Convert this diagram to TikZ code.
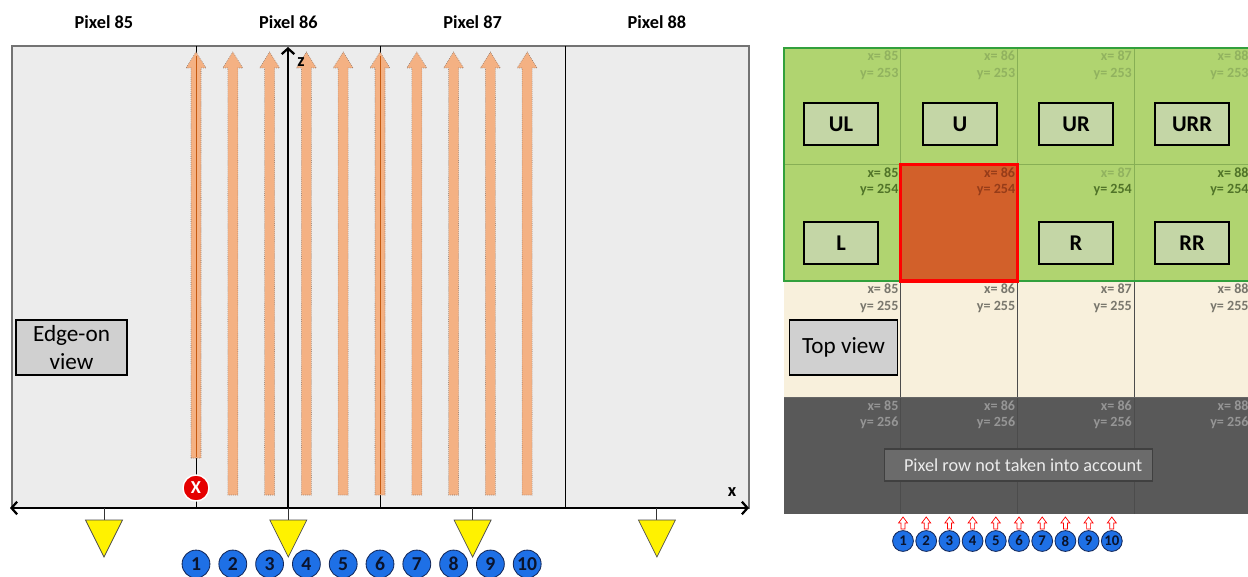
\documentclass[tikz,border=0pt]{standalone}
\usepackage{fontspec}
\setmainfont{Carlito}
\usetikzlibrary{arrows.meta}

\definecolor{edgebg}{RGB}{236,236,236}
\definecolor{beam}{RGB}{244,177,131}
\definecolor{beamline}{RGB}{125,105,95}
\definecolor{beamcore}{RGB}{197,90,17}
\definecolor{padgreen}{RGB}{176,212,112}
\definecolor{padborder}{RGB}{50,160,60}
\definecolor{padline}{RGB}{135,175,85}
\definecolor{hitcell}{RGB}{210,96,42}
\definecolor{beige}{RGB}{248,240,220}
\definecolor{deadrow}{RGB}{89,89,89}
\definecolor{tagfill}{RGB}{196,214,166}
\definecolor{viewfill}{RGB}{208,208,208}
\definecolor{stripblue}{RGB}{30,112,230}
\definecolor{stripnavy}{RGB}{20,40,90}
\definecolor{lightlbl}{RGB}{145,178,95}
\definecolor{darklbl}{RGB}{80,115,40}
\definecolor{hitlbl}{RGB}{150,60,25}
\definecolor{beigelbl}{RGB}{120,118,108}
\definecolor{deadlbl}{RGB}{150,150,150}

\newcommand*{\xleft}{12}
\newcommand*{\xright}{749}
\newcommand*{\ztop}{46}
\newcommand*{\zbot}{508}
\newcommand*{\pitch}{36.8}
\newcommand*{\cellw}{116.7}
\newcommand*{\cellh}{116.5}
\newcommand*{\gridx}{784}
\newcommand*{\gridy}{48}

% one beam arrow: centre x, lower end
\newcommand*{\beamarrow}[2]{%
	\filldraw[fill=beam,draw=beamline,densely dotted,line width=0.4pt]
		(#1-5,#2) -- (#1-5,68) -- (#1-10,68) -- (#1,52) -- (#1+10,68) -- (#1+5,68) -- (#1+5,#2) -- cycle;}
% small hit arrow of the top view
\newcommand*{\hitarrow}[1]{%
	\filldraw[fill=white,draw=red,line width=0.5pt]
		(#1-2,529) -- (#1-2,523) -- (#1-4.5,523) -- (#1,517) -- (#1+4.5,523) -- (#1+2,523) -- (#1+2,529) -- cycle;}

\begin{document}
\begin{tikzpicture}[x=0.025cm,y=-0.025cm,
	pixlabel/.style={font=\bfseries\fontsize{13}{15}\selectfont},
	viewbox/.style={draw=black,line width=1.2pt,fill=viewfill,align=center,inner sep=0pt,
		minimum height=39pt,font=\fontsize{16.5}{20}\selectfont},
	tagbox/.style={draw=black,line width=1.2pt,fill=tagfill,inner sep=0pt,
		minimum width=53pt,minimum height=30pt,font=\bfseries\fontsize{16}{18}\selectfont},
	celllbl/.style={anchor=north east,align=right,inner sep=0pt,font=\bfseries\fontsize{10}{11.5}\selectfont},
	stripnum/.style={circle,draw=stripnavy,fill=stripblue,line width=0.6pt,inner sep=0pt,
		minimum size=19.8pt,text=stripnavy!50!black,font=\bfseries\fontsize{14}{16}\selectfont},
	smallnum/.style={stripnum,minimum size=14.8pt,font=\bfseries\fontsize{10.5}{12}\selectfont},
	readout/.style={draw=black!70,fill=yellow,line width=0.5pt}]

	\useasboundingbox (0,0) rectangle (1248,577);
	\fill[white] (0,0) rectangle (1248,577);

	% edge-on view
	\filldraw[fill=edgebg,draw=black!55,line width=0.8pt] (\xleft,\ztop) rectangle (\xright,\zbot);
	\foreach \d in {196,380,565}
		\draw[black,line width=0.6pt] (\d,\ztop) -- (\d,\zbot);

	\foreach \n [count=\i from 0] in {85,...,88}
		\node[pixlabel] (pix\n) at ({104+\i*184.3},22) {Pixel \n};

	\beamarrow{196}{458}
	\foreach \i in {2,...,10} {
		\pgfmathsetmacro\bx{196+(\i-1)*\pitch}
		\beamarrow{\bx}{495}
	}
	\draw[beamcore,line width=0.7pt] (196,56) -- (196,457);
	\draw[beamcore,line width=0.7pt] (380,56) -- (380,494);

	\node[circle,fill=red!90!black,draw=white,line width=1pt,minimum size=18.5pt,inner sep=0pt,
		text=white,font=\bfseries\fontsize{13}{15}\selectfont] (lost) at (196,488) {X};

	\node[viewbox,minimum width=79pt] (edgeview) at (71.5,347.5) {Edge-on\\view};

	% axes
	\coordinate (xaxL) at (10,\zbot);
	\coordinate (xaxR) at (\xright,\zbot);
	\coordinate (zax0) at (288,\zbot);
	\coordinate (zax1) at (288,47);
	\draw[{Straight Barb[length=4pt,width=9pt]}-{Straight Barb[length=4pt,width=9pt]},line width=1.6pt] (xaxL) -- (xaxR);
	\draw[-{Straight Barb[length=4pt,width=9pt]},line width=1.6pt] (zax0) -- (zax1);
	\node[pixlabel] (zlabel) at (301,62) {z};
	\node[pixlabel] (xlabel) at (732,492) {x};

	% strip numbers and readout pads
	\foreach \i in {1,...,10}
		\node[stripnum] (strip\i) at ({196+(\i-1)*\pitch},564) {\i};
	\foreach \i in {0,...,3} {
		\pgfmathsetmacro\tx{104+\i*184.3}
		\coordinate (ax\i) at (\tx,\zbot);
		\coordinate (tri\i) at (\tx,520);
		\draw[black!80,line width=0.6pt] (ax\i) -- (tri\i);
		\filldraw[readout] (\tx-18.5,520) -- (\tx+18.5,520) -- (\tx,557) -- cycle;
	}

	% top view
	\fill[padgreen] (\gridx,\gridy) rectangle ++(4*\cellw,2*\cellh);
	\fill[beige] (\gridx,\gridy+2*\cellh) rectangle ++(4*\cellw,\cellh);
	\fill[deadrow] (\gridx,\gridy+3*\cellh) rectangle ++(4*\cellw,\cellh);
	\draw[padline,line width=0.6pt] (\gridx,\gridy+\cellh) -- ++(4*\cellw,0);
	\foreach \c in {1,2,3} {
		\draw[padline,line width=0.6pt] (\gridx+\c*\cellw,\gridy) -- ++(0,2*\cellh);
		\draw[black!70,line width=0.6pt] (\gridx+\c*\cellw,\gridy+2*\cellh) -- ++(0,2*\cellh);
	}
	\draw[black!60,line width=0.5pt] (\gridx,\gridy+3*\cellh) -- ++(4*\cellw,0);
	\draw[padborder,line width=1.6pt] (\gridx,\gridy) rectangle ++(4*\cellw,2*\cellh);
	\filldraw[fill=hitcell,draw=red,line width=2.2pt] (\gridx+\cellw,\gridy+\cellh) rectangle ++(\cellw,\cellh);

	\foreach \r/\c/\xv/\yv/\xc/\yc in {
			0/0/85/253/lightlbl/lightlbl, 0/1/86/253/lightlbl/lightlbl, 0/2/87/253/lightlbl/lightlbl, 0/3/88/253/lightlbl/lightlbl,
			1/0/85/254/darklbl/darklbl, 1/1/86/254/hitlbl/hitlbl, 1/2/87/254/lightlbl/darklbl, 1/3/88/254/darklbl/darklbl,
			2/0/85/255/beigelbl/beigelbl, 2/1/86/255/beigelbl/beigelbl, 2/2/87/255/beigelbl/beigelbl, 2/3/88/255/beigelbl/beigelbl,
			3/0/85/256/deadlbl/deadlbl, 3/1/86/256/deadlbl/deadlbl, 3/2/86/256/deadlbl/deadlbl, 3/3/88/256/deadlbl/deadlbl}
		\node[celllbl] (cell\r\c) at ({\gridx+(\c+1)*\cellw-2},{\gridy+\r*\cellh+3})
			{\textcolor{\xc}{x= \xv}\\\textcolor{\yc}{y= \yv}};

	\node[tagbox] (UL) at (841,124) {UL};
	\node[tagbox] (U) at (960,124) {U};
	\node[tagbox] (UR) at (1076,124) {UR};
	\node[tagbox] (URR) at (1192,124) {URR};
	\node[tagbox] (L) at (841,243) {L};
	\node[tagbox] (R) at (1076,243) {R};
	\node[tagbox] (RR) at (1192,243) {RR};

	\node[viewbox,minimum width=77pt] (topview) at (843.5,347.5) {Top view};
	\node[draw=black!75,fill=black!58,text=black!8,line width=0.8pt,minimum width=190.6pt,minimum height=22.7pt,
		inner sep=0pt,font=\fontsize{13}{15}\selectfont] (deadnote) at (1018.5,465)
		{\hspace*{6.6pt}Pixel row not taken into account};

	\foreach \i in {1,...,10} {
		\pgfmathsetmacro\hx{903+(\i-1)*23.2}
		\hitarrow{\hx}
		\node[smallnum] (hit\i) at (\hx,541) {\i};
	}

\end{tikzpicture}
\end{document}
